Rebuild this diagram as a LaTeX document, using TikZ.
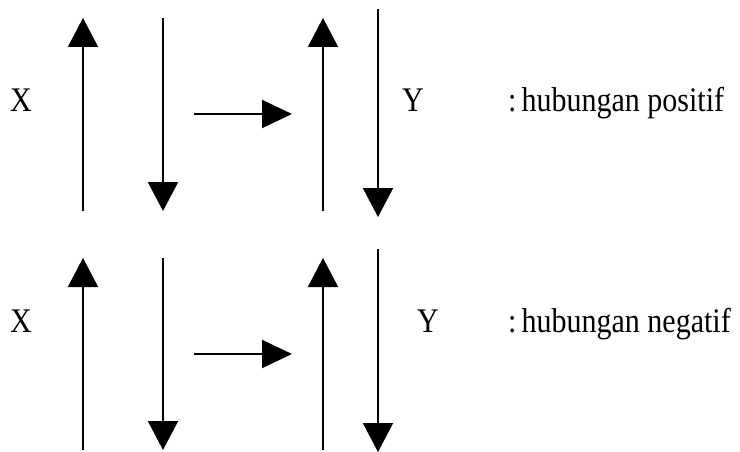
\documentclass[tikz,border=0pt]{standalone}
\usepackage{fontspec}
\usepackage{graphicx}
\setmainfont{Liberation Serif}
\usetikzlibrary{arrows.meta}
\tikzset{
  vline/.style={line width=2pt, -{Triangle[length=29pt,width=30pt]}},
  hline/.style={line width=2pt, -{Triangle[length=30pt,width=28pt]}},
  lbl/.style={anchor=base west, inner sep=0pt, font=\fontsize{30}{36}\selectfont}
}
\newcommand{\tallt}[1]{\scalebox{1}[1.15]{#1}}
\begin{document}
\begin{tikzpicture}[x=1pt,y=-1pt]
\useasboundingbox (0,0) rectangle (740,452);
% top row
\node[lbl] (x1) at (10,111) {\tallt{X}};
\node[lbl] (y1) at (402,112) {\tallt{Y}};
\node[lbl] (t1) at (508,112) {\tallt{:\hspace{0.17em}hubungan positif}};
\coordinate (a1s) at (83,211); \coordinate (a1e) at (83,18);
\coordinate (a2s) at (163,18); \coordinate (a2e) at (163,211);
\coordinate (h1s) at (194,114); \coordinate (h1e) at (292,114);
\coordinate (a3s) at (323,211); \coordinate (a3e) at (323,18);
\coordinate (a4s) at (378,9); \coordinate (a4e) at (378,217);
\draw[vline] (a1s) -- (a1e);
\draw[vline] (a2s) -- (a2e);
\draw[hline] (h1s) -- (h1e);
\draw[vline] (a3s) -- (a3e);
\draw[vline] (a4s) -- (a4e);
% bottom row
\node[lbl] (x2) at (10,332) {\tallt{X}};
\node[lbl] (y2) at (417,332) {\tallt{Y}};
\node[lbl] (t2) at (508,332) {\tallt{:\hspace{0.17em}hubungan negatif}};
\coordinate (b1s) at (83,450); \coordinate (b1e) at (83,258);
\coordinate (b2s) at (163,258); \coordinate (b2e) at (163,450);
\coordinate (h2s) at (194,354); \coordinate (h2e) at (292,354);
\coordinate (b3s) at (323,450); \coordinate (b3e) at (323,258);
\coordinate (b4s) at (378,249); \coordinate (b4e) at (378,452);
\draw[vline] (b1s) -- (b1e);
\draw[vline] (b2s) -- (b2e);
\draw[hline] (h2s) -- (h2e);
\draw[vline] (b3s) -- (b3e);
\draw[vline] (b4s) -- (b4e);
\end{tikzpicture}
\end{document}
